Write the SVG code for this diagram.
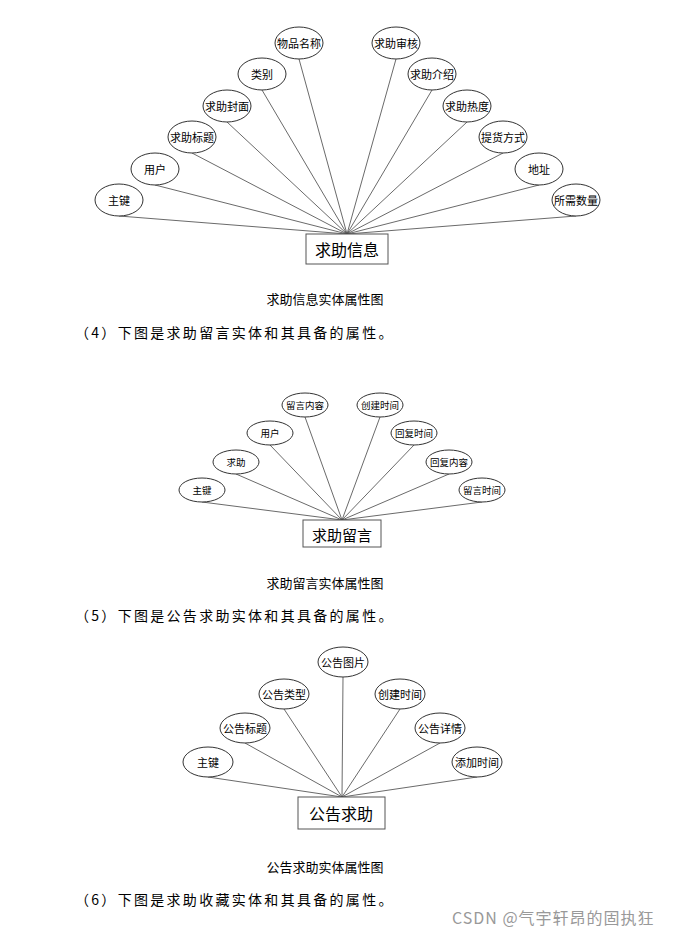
<svg xmlns="http://www.w3.org/2000/svg" width="699" height="938" viewBox="0 0 699 938">
<style>
text{font-family:"Noto Sans CJK SC","Liberation Sans",sans-serif;fill:#000}
.e{fill:#fff;stroke:#333;stroke-width:1}
.b{fill:#fff;stroke:#555;stroke-width:1}
.l{stroke:#444;stroke-width:0.8}
.s{font-size:11px;text-anchor:middle;dominant-baseline:central}
.t{font-size:9.5px;text-anchor:middle;dominant-baseline:central}
.m{font-size:16px;text-anchor:middle;dominant-baseline:central}
.c{font-size:13px;text-anchor:middle}
.p{font-size:14px;letter-spacing:2.3px}
</style>
<rect width="699" height="938" fill="#fff"/>
<g id="connectors">
<g class="l">
<line x1="347" y1="234" x2="119" y2="216"/><line x1="347" y1="234" x2="155" y2="185"/><line x1="347" y1="234" x2="192" y2="153"/><line x1="347" y1="234" x2="227" y2="122"/><line x1="347" y1="234" x2="262" y2="90"/><line x1="347" y1="234" x2="299" y2="59"/><line x1="347" y1="234" x2="396" y2="59"/><line x1="347" y1="234" x2="432" y2="90"/><line x1="347" y1="234" x2="467" y2="122"/><line x1="347" y1="234" x2="503" y2="153"/><line x1="347" y1="234" x2="539" y2="185"/><line x1="347" y1="234" x2="576" y2="216"/>
<line x1="342" y1="520" x2="202" y2="502"/><line x1="342" y1="520" x2="236" y2="474"/><line x1="342" y1="520" x2="270" y2="445"/><line x1="342" y1="520" x2="305" y2="417"/><line x1="342" y1="520" x2="380" y2="417"/><line x1="342" y1="520" x2="414" y2="445"/><line x1="342" y1="520" x2="449" y2="474"/><line x1="342" y1="520" x2="482" y2="502"/>
<line x1="342" y1="797" x2="208" y2="777"/><line x1="342" y1="797" x2="245" y2="743"/><line x1="342" y1="797" x2="284" y2="709"/><line x1="342" y1="797" x2="343" y2="677"/><line x1="342" y1="797" x2="400" y2="709"/><line x1="342" y1="797" x2="440" y2="743"/><line x1="342" y1="797" x2="477" y2="777"/>
</g>
</g>
<g id="d1">
<g id="n1"><ellipse class="e" cx="119" cy="200" rx="24" ry="16"/><text class="s" x="119" y="200">主键</text></g>
<g id="n2"><ellipse class="e" cx="155" cy="169" rx="24" ry="16"/><text class="s" x="155" y="169">用户</text></g>
<g id="n3"><ellipse class="e" cx="192" cy="137" rx="24" ry="16"/><text class="s" x="192" y="137">求助标题</text></g>
<g id="n4"><ellipse class="e" cx="227" cy="106" rx="24" ry="16"/><text class="s" x="227" y="106">求助封面</text></g>
<g id="n5"><ellipse class="e" cx="262" cy="74" rx="24" ry="16"/><text class="s" x="262" y="74">类别</text></g>
<g id="n6"><ellipse class="e" cx="299" cy="43" rx="24" ry="16"/><text class="s" x="299" y="43">物品名称</text></g>
<g id="n7"><ellipse class="e" cx="396" cy="43" rx="24" ry="16"/><text class="s" x="396" y="43">求助审核</text></g>
<g id="n8"><ellipse class="e" cx="432" cy="74" rx="24" ry="16"/><text class="s" x="432" y="74">求助介绍</text></g>
<g id="n9"><ellipse class="e" cx="467" cy="106" rx="24" ry="16"/><text class="s" x="467" y="106">求助热度</text></g>
<g id="n10"><ellipse class="e" cx="503" cy="137" rx="24" ry="16"/><text class="s" x="503" y="137">提货方式</text></g>
<g id="n11"><ellipse class="e" cx="539" cy="169" rx="24" ry="16"/><text class="s" x="539" y="169">地址</text></g>
<g id="n12"><ellipse class="e" cx="576" cy="200" rx="24" ry="16"/><text class="s" x="576" y="200">所需数量</text></g>
<g id="e1"><rect class="b" x="306" y="234" width="82" height="30"/><text class="m" x="347" y="249">求助信息</text></g>
</g>
<text class="c" x="325" y="304">求助信息实体属性图</text>
<text class="p" x="75" y="338">（4）下图是求助留言实体和其具备的属性。</text>
<g id="d2">
<g id="m1"><ellipse class="e" cx="202" cy="490" rx="23" ry="12"/><text class="t" x="202" y="490">主键</text></g>
<g id="m2"><ellipse class="e" cx="236" cy="462" rx="23" ry="12"/><text class="t" x="236" y="462">求助</text></g>
<g id="m3"><ellipse class="e" cx="270" cy="433" rx="23" ry="12"/><text class="t" x="270" y="433">用户</text></g>
<g id="m4"><ellipse class="e" cx="305" cy="405" rx="23" ry="12"/><text class="t" x="305" y="405">留言内容</text></g>
<g id="m5"><ellipse class="e" cx="380" cy="405" rx="23" ry="12"/><text class="t" x="380" y="405">创建时间</text></g>
<g id="m6"><ellipse class="e" cx="414" cy="433" rx="23" ry="12"/><text class="t" x="414" y="433">回复时间</text></g>
<g id="m7"><ellipse class="e" cx="449" cy="462" rx="23" ry="12"/><text class="t" x="449" y="462">回复内容</text></g>
<g id="m8"><ellipse class="e" cx="482" cy="490" rx="23" ry="12"/><text class="t" x="482" y="490">留言时间</text></g>
<g id="e2"><rect class="b" x="303" y="520" width="78" height="27"/><text class="m" x="342" y="534" style="font-size:15px">求助留言</text></g>
</g>
<text class="c" x="325" y="588">求助留言实体属性图</text>
<text class="p" x="75" y="621">（5）下图是公告求助实体和其具备的属性。</text>
<g id="d3">
<g id="k1"><ellipse class="e" cx="208" cy="762" rx="25" ry="15"/><text class="s" x="208" y="762">主键</text></g>
<g id="k2"><ellipse class="e" cx="245" cy="728" rx="25" ry="15"/><text class="s" x="245" y="728">公告标题</text></g>
<g id="k3"><ellipse class="e" cx="284" cy="694" rx="25" ry="15"/><text class="s" x="284" y="694">公告类型</text></g>
<g id="k4"><ellipse class="e" cx="343" cy="662" rx="25" ry="15"/><text class="s" x="343" y="662">公告图片</text></g>
<g id="k5"><ellipse class="e" cx="400" cy="694" rx="25" ry="15"/><text class="s" x="400" y="694">创建时间</text></g>
<g id="k6"><ellipse class="e" cx="440" cy="728" rx="25" ry="15"/><text class="s" x="440" y="728">公告详情</text></g>
<g id="k7"><ellipse class="e" cx="477" cy="762" rx="25" ry="15"/><text class="s" x="477" y="762">添加时间</text></g>
<g id="e3"><rect class="b" x="298" y="797" width="87" height="32"/><text class="m" x="341" y="813">公告求助</text></g>
</g>
<text class="c" x="325" y="872">公告求助实体属性图</text>
<text class="p" x="75" y="905">（6）下图是求助收藏实体和其具备的属性。</text>
<text x="452" y="924" style="font-size:16px;fill:#999;letter-spacing:1px">CSDN @气宇轩昂的固执狂</text>
</svg>
